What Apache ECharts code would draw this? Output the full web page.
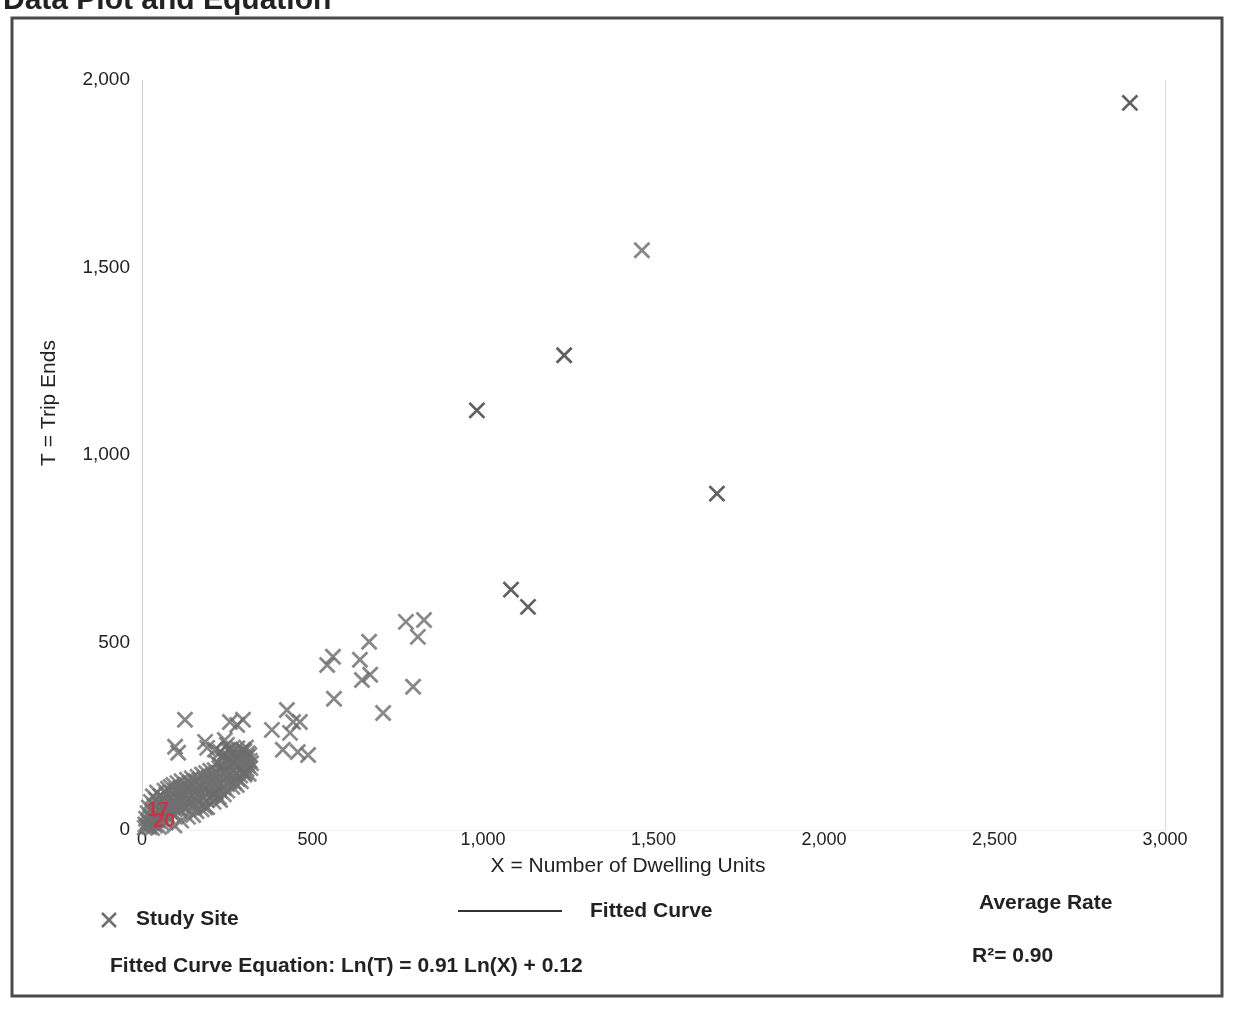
<!DOCTYPE html>
<html>
<head>
<meta charset="utf-8">
<script src="https://cdn.jsdelivr.net/npm/echarts@6/dist/echarts.min.js"></script>
<style>
html,body{margin:0;padding:0;background:#fff;}
#chart{width:1236px;height:1009px;}
</style>
</head>
<body>
<div id="chart"></div>
<script>
// ---- Data ----
var xTicks = [0, 500, 1000, 1500, 2000, 2500, 3000];
var yTicks = [0, 500, 1000, 1500, 2000];

// large sites, dark crosses
var darkSites = [
  [2897,1939],[1238,1266],[982,1119],[1686,897],[1082,641],[1132,595]
];

// medium sites, gray crosses
var midSites = [
  [1466,1546],[774,555],[827,560],[809,515],[666,502],[560,462],[543,440],[639,454],
  [645,400],[669,414],[563,350],[795,382],[707,312],
  [126,294],[258,288],[296,294],[279,280],[97,222],[106,206],[185,235],[191,219],
  [229,208],[249,227],[243,240],[252,214],[214,214],[381,267],[425,320],[443,288],
  [463,288],[434,259],[413,214],[457,208],[487,200],[296,214],[220,179],[267,179],
  [302,152],[208,93],[229,80],[191,61]
];

// dense cluster of small sites near the origin
var smallSites = [
  [8,6],[10,15],[12,30],[14,10],[16,45],[18,22],[20,60],[22,8],[24,35],[26,75],[28,18],
  [30,50],[32,90],[34,28],[36,65],[38,12],[40,42],[42,80],[44,100],[46,25],[48,55],
  [50,70],[52,35],[54,90],[56,20],[58,48],
  [60,62],[62,30],[64,85],[66,105],[68,45],[70,72],[72,95],[74,38],[76,110],[78,58],
  [80,82],[82,50],[84,115],[86,66],[88,98],[90,42],[92,120],[94,75],[96,55],[98,105],
  [100,88],[102,60],[104,125],[106,70],[108,95],[110,52],[112,112],[114,80],[116,130],
  [118,64],[120,100],[122,88],[124,72],[126,120],[128,60],[130,108],[132,134],[134,84],
  [136,96],[138,70],[140,125],[142,110],[144,78],[146,138],[148,92],[150,118],
  [152,66],[155,100],[158,130],[160,80],[163,142],[166,110],[168,72],[170,95],[173,125],
  [176,148],[178,85],[180,112],[183,135],[186,98],[188,152],[190,80],[193,120],[196,140],
  [198,105],[200,158],[203,90],[206,128],[208,146],[210,112],[213,160],[216,100],[218,135],
  [220,152],[223,118],[226,165],[228,105],[230,140],[233,170],[236,125],[238,155],[240,112],
  [243,172],[246,138],[248,160],[250,122],[253,178],[256,148],[258,130],[260,165],[263,182],
  [266,140],[268,158],[270,128],[273,185],[276,150],[278,170],[280,136],[283,188],[286,160],
  [288,145],[290,178],[293,192],[296,155],[298,170],[300,148],[303,185],[306,162],[308,195],
  [310,172],[313,150],[316,185],[318,165],[320,178],
  [255,195],[262,205],[270,200],[285,205],[300,210],[310,205],[315,200],[290,195],[275,192],
  [245,185],[235,190],[240,200],[260,215],[280,218],[305,220],
  [95,12],[115,25],[135,35],[160,50],[185,60],[210,75],[240,95],[265,115],[290,130],
  [70,20],[50,8],[30,5],[150,40],[175,55],[225,88],[250,105],[278,120]
];

function fmt(v){ return v.toLocaleString('en-US'); }

var crossPath = 'path://M0,0L16,16M16,0L0,16';
var chart = echarts.init(document.getElementById('chart'), null, {renderer:'canvas'});

var labelFont = 'Liberation Sans, Arial, sans-serif';
var boldFont = 'bold 21px Liberation Sans, Arial, sans-serif';

chart.setOption({
  backgroundColor: '#ffffff',
  animation: false,
  grid: {left: 142, right: 71, top: 80, bottom: 179, containLabel: false},
  xAxis: {
    type: 'value', min: xTicks[0], max: xTicks[xTicks.length-1], interval: 500,
    axisLine: {show: true, lineStyle: {color: '#ececec', type: 'dotted', width: 1}},
    axisTick: {show: false},
    splitLine: {show: false},
    axisLabel: {margin: 1, color: '#222', fontSize: 18, fontFamily: labelFont,
      formatter: function(v){ return xTicks.indexOf(v) >= 0 ? fmt(v) : ''; }}
  },
  yAxis: [{
    type: 'value', min: yTicks[0], max: yTicks[yTicks.length-1], interval: 500,
    axisLine: {show: true, lineStyle: {color: '#c4c4c4', type: 'dotted', width: 1}},
    axisTick: {show: false},
    splitLine: {show: false},
    axisLabel: {margin: 12, color: '#222', fontSize: 19, fontFamily: labelFont,
      formatter: function(v){ return yTicks.indexOf(v) >= 0 ? fmt(v) : ''; }}
  },{
    type: 'value', position: 'right', min: yTicks[0], max: yTicks[yTicks.length-1], interval: 500,
    axisLine: {show: true, lineStyle: {color: '#d4d4d4', type: 'dotted', width: 1}},
    axisTick: {show: false}, splitLine: {show: false}, axisLabel: {show: false}
  }],
  series: [
    {
      name: 'Study Site', type: 'scatter', data: smallSites,
      symbol: crossPath, symbolSize: 15,
      itemStyle: {color: 'rgba(0,0,0,0)', borderColor: '#6f6f6f', borderWidth: 2.8}
    },
    {
      name: 'Study Site', type: 'scatter', data: midSites,
      symbol: crossPath, symbolSize: 15,
      itemStyle: {color: 'rgba(0,0,0,0)', borderColor: '#6a6a6a', borderWidth: 2.8}
    },
    {
      name: 'Study Site', type: 'scatter', data: darkSites,
      symbol: crossPath, symbolSize: 15,
      itemStyle: {color: 'rgba(0,0,0,0)', borderColor: '#383838', borderWidth: 2.8}
    }
  ],
  graphic: [
    {type: 'rect', shape: {x: 12, y: 18, width: 1210, height: 978},
     style: {fill: 'none', stroke: '#4a4a4a', lineWidth: 3}, z: 10},
    {type: 'text', x: 3, y: 16,
     style: {text: 'Data Plot and Equation', font: 'bold 30px Liberation Sans, Arial, sans-serif', fill: '#222',
       textVerticalAlign: 'bottom'}},
    {type: 'text', x: 628, y: 866,
     style: {text: 'X = Number of Dwelling Units', font: '21px Liberation Sans, Arial, sans-serif', fill: '#222',
       textAlign: 'center', textVerticalAlign: 'middle'}},
    {type: 'text', x: 49, y: 403, rotation: Math.PI/2,
     style: {text: 'T = Trip Ends', font: '21px Liberation Sans, Arial, sans-serif', fill: '#222',
       textAlign: 'center', textVerticalAlign: 'middle'}},
    {type: 'text', x: 158, y: 810,
     style: {text: '17', font: 'bold 20px Liberation Sans, Arial, sans-serif', fill: 'rgba(210,45,65,0.9)',
       textAlign: 'center', textVerticalAlign: 'middle'}, z: 120},
    {type: 'text', x: 164, y: 821,
     style: {text: '20', font: 'bold 20px Liberation Sans, Arial, sans-serif', fill: 'rgba(210,45,65,0.9)',
       textAlign: 'center', textVerticalAlign: 'middle'}, z: 120},
    {type: 'line', shape: {x1: 102, y1: 913, x2: 116, y2: 927},
     style: {stroke: '#6f6f6f', lineWidth: 2.5}},
    {type: 'line', shape: {x1: 116, y1: 913, x2: 102, y2: 927},
     style: {stroke: '#6f6f6f', lineWidth: 2.5}},
    {type: 'text', x: 136, y: 919,
     style: {text: 'Study Site', font: boldFont, fill: '#222', textVerticalAlign: 'middle'}},
    {type: 'line', shape: {x1: 458, y1: 911, x2: 562, y2: 911},
     style: {stroke: '#333', lineWidth: 2}},
    {type: 'text', x: 590, y: 911,
     style: {text: 'Fitted Curve', font: boldFont, fill: '#222', textVerticalAlign: 'middle'}},
    {type: 'text', x: 979, y: 903,
     style: {text: 'Average Rate', font: boldFont, fill: '#222', textVerticalAlign: 'middle'}},
    {type: 'text', x: 972, y: 956,
     style: {text: 'R²= 0.90', font: boldFont, fill: '#222', textVerticalAlign: 'middle'}},
    {type: 'text', x: 110, y: 966,
     style: {text: 'Fitted Curve Equation: Ln(T) = 0.91 Ln(X) + 0.12', font: boldFont, fill: '#222',
       textVerticalAlign: 'middle'}}
  ]
});
</script>
</body>
</html>
